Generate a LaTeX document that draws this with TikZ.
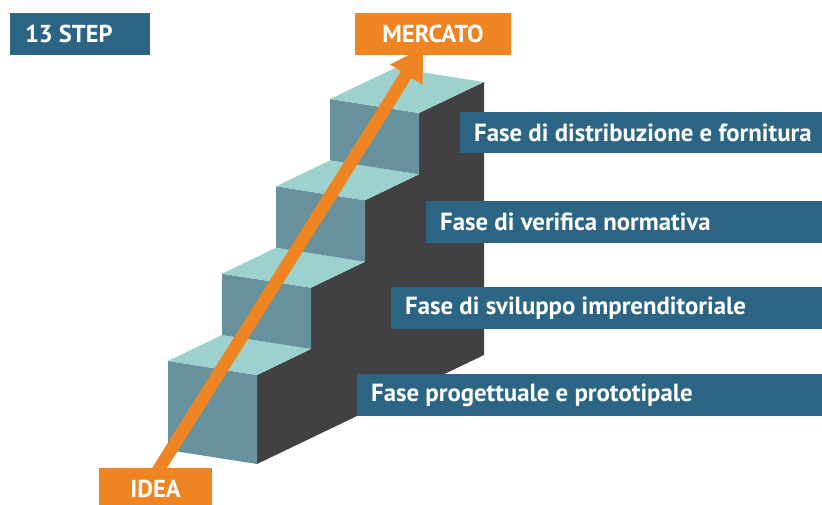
\documentclass[tikz,border=0pt]{standalone}
\usepackage{fontspec}
\setmainfont{PT Sans}
\usetikzlibrary{arrows.meta}
\definecolor{toplight}{HTML}{9DD1CD}
\definecolor{frontteal}{HTML}{67919D}
\definecolor{darkside}{HTML}{414143}
\definecolor{bluebox}{HTML}{2C6583}
\definecolor{orangebox}{HTML}{EE8422}
\newcommand{\leftin}[2]{\makebox[#1][l]{#2}}
\tikzset{
  topface/.style={fill=toplight},
  frontface/.style={fill=frontteal},
  sideface/.style={fill=darkside},
  phase/.style={fill=bluebox, text=white, anchor=west, minimum height=41.5pt,
    inner xsep=14pt, inner ysep=0pt,
    font=\bfseries\fontsize{24.8}{28}\selectfont},
  tag/.style={text=white, minimum height=42pt, inner ysep=0pt,
    font=\bfseries\fontsize{24.5}{28}\selectfont},
  growth/.style={draw=orangebox, line width=12.5pt,
    -{Triangle[width=36pt,length=32pt]}}
}
\begin{document}
\begin{tikzpicture}[x=1pt,y=-1pt]
\clip (0,0) rectangle (822,504);
\fill[white] (0,0) rectangle (822,504);
% dark side
\fill[sideface] (257,464) -- (257,375) -- (311,349) -- (311,287.7) -- (365,261.7)
  -- (365,200.3) -- (419,174.3) -- (419,113) -- (484,82) -- (484,355) -- cycle;
% step 1
\fill[frontface] (168,361) -- (257,375) -- (257,464) -- (168,450) -- cycle;
\fill[topface] (168,361) -- (257,375) -- (311,349) -- (222,335) -- cycle;
% step 2
\fill[frontface] (222,273.7) -- (311,287.7) -- (311,349) -- (222,335) -- cycle;
\fill[topface] (222,273.7) -- (311,287.7) -- (365,261.7) -- (276,247.7) -- cycle;
% step 3
\fill[frontface] (276,186.3) -- (365,200.3) -- (365,261.7) -- (276,247.7) -- cycle;
\fill[topface] (276,186.3) -- (365,200.3) -- (419,174.3) -- (330,160.3) -- cycle;
% step 4
\fill[frontface] (330,99) -- (419,113) -- (419,174.3) -- (330,160.3) -- cycle;
\fill[topface] (330,99) -- (419,113) -- (484,82) -- (395,68) -- cycle;
% arrow
\coordinate (arrowstart) at (152,480);
\coordinate (arrowtip) at (423.3,47.5);
\draw[growth] (arrowstart) -- (arrowtip);
% labels
\node[tag, fill=bluebox, inner xsep=15pt]
  (steps) at (80,34) {\leftin{110pt}{13 STEP}};
\node[tag, fill=orangebox, minimum width=156pt] (mercato) at (433,34) {MERCATO};
\node[tag, fill=orangebox, minimum width=113pt] (idea) at (155.5,489) {IDEA};
\node[phase] (p4) at (460,132.5) {\leftin{334pt}{Fase di distribuzione e fornitura}};
\node[phase] (p3) at (426,222) {\leftin{368pt}{Fase di verifica normativa}};
\node[phase] (p2) at (391,308) {\leftin{403pt}{Fase di sviluppo imprenditoriale}};
\node[phase] (p1) at (357,395) {\leftin{437pt}{Fase progettuale e prototipale}};
\end{tikzpicture}
\end{document}
